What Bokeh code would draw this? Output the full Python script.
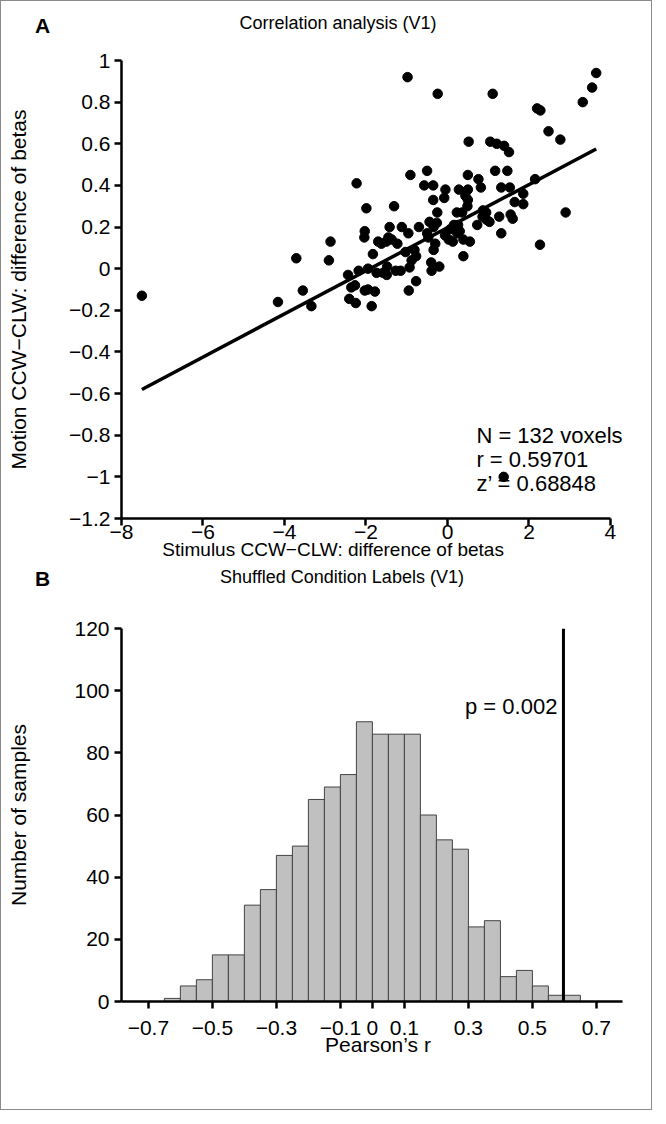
from bokeh.plotting import figure
from bokeh.layouts import column
from bokeh.models import FixedTicker, Range1d, Span, CustomJSTickFormatter, Div
from bokeh.core.properties import value
from bokeh.embed import file_html
from bokeh.resources import INLINE

# ---------------- data: panel A (scatter) ----------------
stim_diff = [-0.98, -0.24, 1.11, 3.65, 3.55, 3.32, 2.20, 2.28, 2.48, 2.77,
             0.52, 1.05, 1.21, 1.39, 1.51, -0.91, -0.50, 1.17, 1.47, 0.50,
             -0.57, -0.35, -0.05, 0.28, 0.50, 0.76, 0.82, -0.35, -0.08, 0.44,
             0.50, 1.32, 1.53, 2.15, 1.86, 1.65, 1.86, 2.90, -1.31, -0.25,
             0.23, 0.36, 0.49, 0.87, 0.95, 1.03, 0.96, 0.86, 1.27, 1.55,
             1.60, 0.73, 1.32, 2.27, -0.44, -0.26, -0.34, -0.70, 0.16, 0.26,
             0.30, 0.24, 0.07, 0.03, 0.13, -0.06, 0.39, 0.55, 0.39, -0.50,
             -0.47, -0.30, -0.34, -0.40, -0.20, -0.39, -0.77, -0.95, -1.42, -1.12,
             -0.96, -1.62, -1.50, -1.37, -1.23, -1.03, -0.81, -0.77, -0.88, -0.93,
             -1.83, -1.95, -1.74, -1.58, -1.49, -1.48, -1.27, -1.15, -1.95, -1.78,
             -1.86, -2.23, -1.99, -2.03, -2.04, -2.87, -3.71, -2.91, -2.44, -2.18,
             -2.36, -2.27, -2.03, -2.41, -2.25, -3.55, -4.16, -3.34, -7.50, 1.38,
             -1.70, -1.45]
motion_diff = [0.92, 0.84, 0.84, 0.94, 0.87, 0.80, 0.77, 0.76, 0.66, 0.62,
               0.61, 0.61, 0.60, 0.59, 0.56, 0.45, 0.47, 0.47, 0.47, 0.45,
               0.40, 0.40, 0.38, 0.38, 0.38, 0.43, 0.39, 0.33, 0.34, 0.35,
               0.33, 0.39, 0.39, 0.43, 0.36, 0.32, 0.31, 0.27, 0.30, 0.27,
               0.27, 0.27, 0.30, 0.28, 0.27, 0.225, 0.235, 0.25, 0.25, 0.26,
               0.24, 0.21, 0.17, 0.115, 0.225, 0.22, 0.20, 0.20, 0.21, 0.21,
               0.18, 0.17, 0.19, 0.14, 0.13, 0.16, 0.14, 0.13, 0.06, 0.17,
               0.15, 0.12, 0.09, 0.03, 0.01, -0.01, -0.06, -0.105, 0.20, 0.20,
               0.17, 0.12, 0.13, 0.14, 0.12, 0.08, 0.09, 0.06, 0.04, 0.006,
               0.07, 0.0, -0.02, -0.02, -0.03, 0.01, -0.01, -0.01, -0.10, -0.11,
               -0.18, 0.41, 0.29, 0.18, 0.15, 0.13, 0.05, 0.04, -0.03, -0.01,
               -0.09, -0.08, -0.105, -0.145, -0.165, -0.105, -0.16, -0.18, -0.13, -1.00,
               0.13, 0.15]
fit_x = [-7.5, 3.65]
fit_y = [-0.58, 0.575]
stat_lines = ["N = 132 voxels", "r = 0.59701", "z\u2019 = 0.68848"]
stat_y = [-0.80, -0.915, -1.03]
a_xticks = [-8, -6, -4, -2, 0, 2, 4]
a_yticks = [-1.2, -1.0, -0.8, -0.6, -0.4, -0.2, 0.0, 0.2, 0.4, 0.6, 0.8, 1.0]

# ---------------- data: panel B (histogram) ----------------
bin_left = [-0.65, -0.60, -0.55, -0.50, -0.45, -0.40, -0.35, -0.30, -0.25, -0.20,
            -0.15, -0.10, -0.05, 0.00, 0.05, 0.10, 0.15, 0.20, 0.25, 0.30,
            0.35, 0.40, 0.45, 0.50, 0.55, 0.60]
bin_right = [-0.60, -0.55, -0.50, -0.45, -0.40, -0.35, -0.30, -0.25, -0.20, -0.15,
             -0.10, -0.05, 0.00, 0.05, 0.10, 0.15, 0.20, 0.25, 0.30, 0.35,
             0.40, 0.45, 0.50, 0.55, 0.60, 0.65]
bin_count = [1, 5, 7, 15, 15, 31, 36, 47, 50, 65,
             69, 73, 90, 86, 86, 86, 60, 52, 49, 24,
             26, 8, 10, 5, 2, 2]
observed_r = 0.59701
p_text = "p = 0.002"
b_xticks = [-0.7, -0.5, -0.3, -0.1, 0, 0.1, 0.3, 0.5, 0.7]
b_yticks = [0, 20, 40, 60, 80, 100, 120]

FONT = "Liberation Sans"
FS = "21px"
fmt = CustomJSTickFormatter(code="""
var v = Math.round(tick * 10) / 10;
if (v === 0) { return "0"; }
return v.toString().replace("-", "\\u2212");
""")


def style_axes(p, xt, yt):
    p.grid.visible = False
    p.outline_line_color = None
    for ax in (p.xaxis[0], p.yaxis[0]):
        ax.axis_line_width = 2.5
        ax.axis_line_color = "black"
        ax.major_tick_line_width = 2.5
        ax.major_tick_line_color = "black"
        ax.major_tick_out = 7
        ax.major_tick_in = 0
        ax.minor_tick_line_color = None
        ax.major_label_text_font = FONT
        ax.major_label_text_font_size = FS
        ax.major_label_text_color = "black"
        ax.axis_label_text_font = FONT
        ax.axis_label_text_font_size = FS
        ax.axis_label_text_font_style = "normal"
        ax.axis_label_text_color = "black"
        ax.formatter = fmt
    p.xaxis[0].ticker = FixedTicker(ticks=xt)
    p.yaxis[0].ticker = FixedTicker(ticks=yt)


def header(height, letter, letter_left, letter_top, title, title_center, title_top, title_px):
    html = (
        f'<div style="position:relative;width:650px;height:{height}px;'
        f"font-family:'{FONT}',Arial,sans-serif;color:#000;\">"
        f'<div style="position:absolute;left:{letter_left}px;top:{letter_top}px;'
        f'font-size:21px;line-height:21px;font-weight:bold;">{letter}</div>'
        f'<div style="position:absolute;left:{title_center - 325}px;width:650px;top:{title_top}px;'
        f'font-size:{title_px}px;line-height:{title_px}px;text-align:center;white-space:nowrap;">'
        f'{title}</div></div>'
    )
    return Div(text=html, width=650, height=height, margin=(0, 0, 0, 0))


# ---------------- panel A ----------------
hA = header(40, "A", 34, 14, "Correlation analysis (V1)", 337, 13, 18)

pA = figure(width=650, height=527, x_range=Range1d(-8, 4.59), y_range=Range1d(-1.2, 1),
            output_backend="svg", toolbar_location=None,
            min_border_left=120, min_border_right=17, min_border_top=19, min_border_bottom=50)
style_axes(pA, a_xticks, a_yticks)
pA.xaxis[0].bounds = (-8, 4)
pA.yaxis[0].axis_label = "Motion CCW\u2212CLW: difference of betas"
pA.yaxis[0].axis_label_standoff = 36
pA.yaxis[0].major_label_standoff = 4
# trailing no-break spaces move the centred x title left, as in the original layout
pA.xaxis[0].axis_label = "Stimulus CCW\u2212CLW: difference of betas" + "\u00a0" * 17
pA.xaxis[0].axis_label_text_font_size = "19px"
pA.xaxis[0].axis_label_standoff = -3
pA.xaxis[0].major_label_standoff = -1

pA.line(fit_x, fit_y, line_width=3.5, line_color="black")
pA.scatter(stim_diff, motion_diff, size=9.5, color="black")
pA.text(x=[0.71] * 3, y=stat_y, text=stat_lines, text_font=value(FONT),
        text_font_size="22px", text_align="left", text_baseline="middle", text_color="black")

# ---------------- panel B ----------------
hB = header(35, "B", 34, 0, "Shuffled Condition Labels (V1)", 341, 0, 18)

pB = figure(width=650, height=506, x_range=Range1d(-0.784, 0.819), y_range=Range1d(0, 120),
            output_backend="svg", toolbar_location=None,
            min_border_left=120, min_border_right=17, min_border_top=25, min_border_bottom=108)
style_axes(pB, b_xticks, b_yticks)
pB.xaxis[0].bounds = (-0.784, 0.782)
pB.yaxis[0].axis_label = "Number of samples"
pB.yaxis[0].axis_label_standoff = 41
pB.xaxis[0].axis_label = "Pearson\u2019s r"
pB.xaxis[0].axis_label_standoff = -5
pB.xaxis[0].major_label_standoff = 12

pB.quad(left=bin_left, right=bin_right, bottom=0, top=bin_count,
        fill_color="#c0c0c0", line_color="#444444", line_width=1)
pB.add_layout(Span(location=observed_r, dimension="height", line_color="black", line_width=3))
pB.text(x=[0.578], y=[95], text=[p_text], text_font=value(FONT), text_font_size="22px",
        text_align="right", text_baseline="middle", text_color="black")

layout = column(hA, pA, hB, pB, spacing=0, styles={"border": "1px solid #8a8a8a"})
open("out.html", "w").write(file_html(layout, INLINE))
